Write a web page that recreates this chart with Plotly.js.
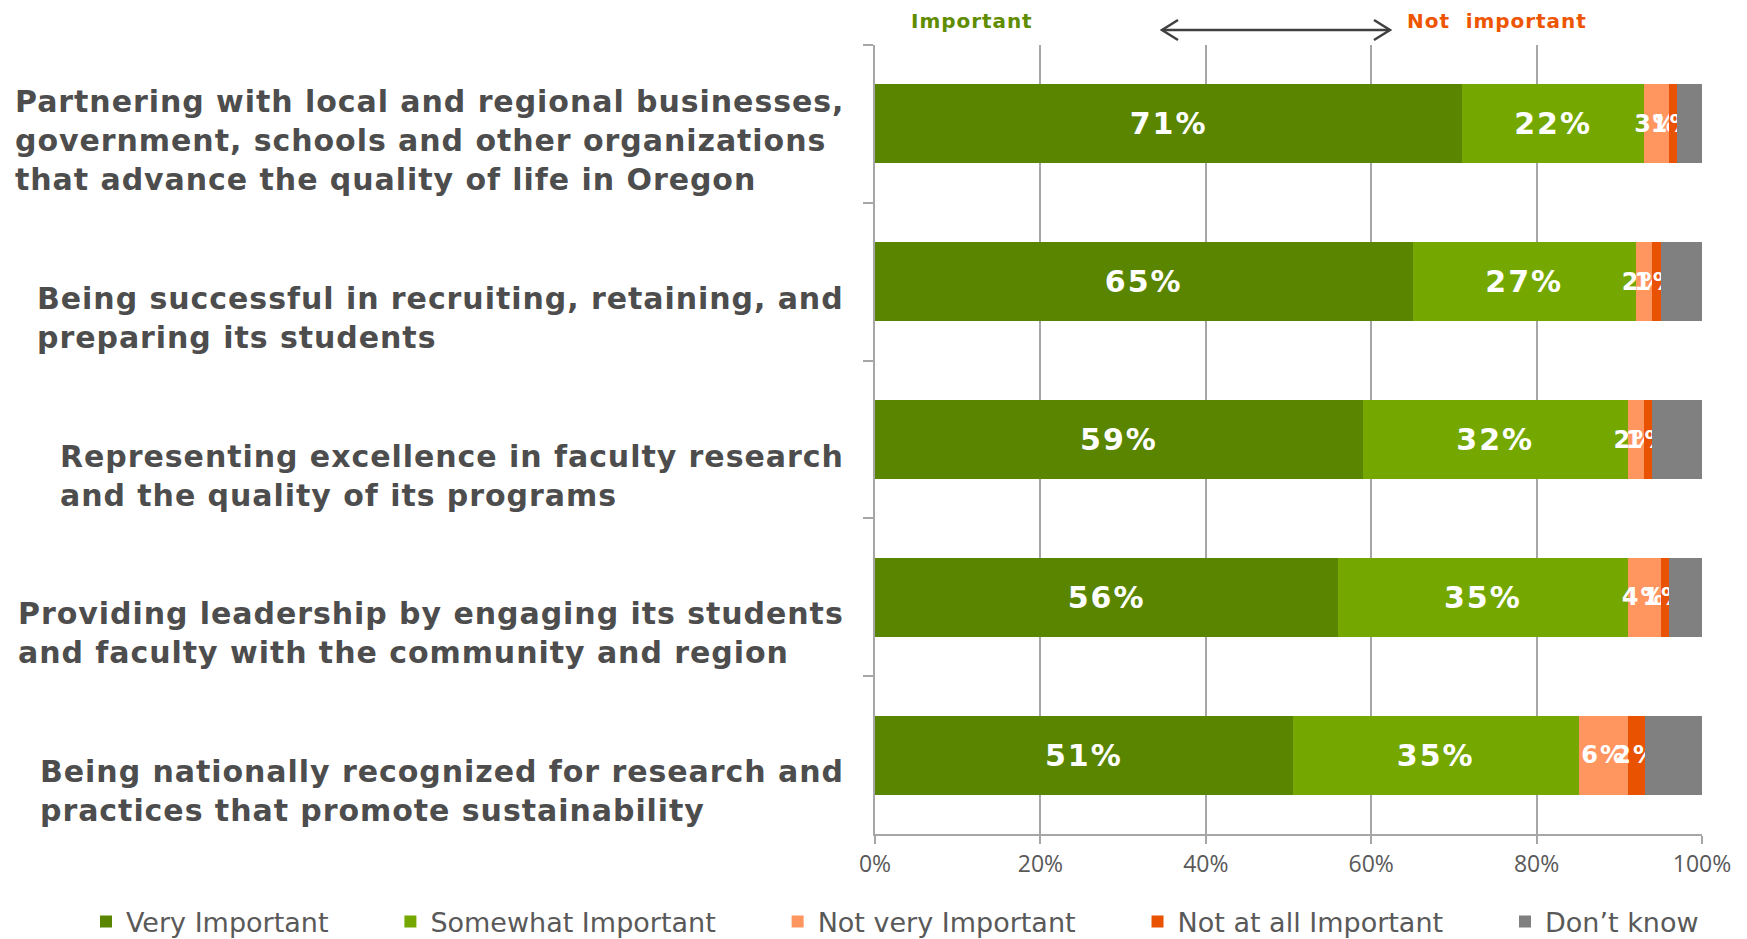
<!DOCTYPE html>
<html>
<head>
<meta charset="utf-8">
<script src="https://cdn.plot.ly/plotly-3.0.1.min.js"></script>
<style>
html,body{margin:0;padding:0;background:#fff;}
#chart{width:1747px;height:939px;}
text.annotation-text{letter-spacing:0.95px;}
text.bartext{letter-spacing:2px;}
</style>
</head>
<body>
<div id="chart"></div>
<script>
const categories = [
  'Partnering with local and regional businesses,<br>government, schools and other organizations<br>that advance the quality of life in Oregon',
  'Being successful in recruiting, retaining, and<br>preparing its students',
  'Representing excellence in faculty research<br>and the quality of its programs',
  'Providing leadership by engaging its students<br>and faculty with the community and region',
  'Being nationally recognized for research and<br>practices that promote sustainability'
];
const seriesNames = ['Very Important', 'Somewhat Important', 'Not very Important', 'Not at all Important', 'Don\u2019t know'];
const veryImportant     = [71, 65, 59, 56, 50.5];
const somewhatImportant = [22, 27, 32, 35, 34.6];
const notVeryImportant  = [3, 2, 2, 4, 6];
const notAtAllImportant = [1, 1, 1, 1, 2];
const dontKnow          = [3, 5, 6, 4, 6.9];
const xTickVals = [0, 20, 40, 60, 80, 100];
const xTickText = ['0%', '20%', '40%', '60%', '80%', '100%'];

const colors = ['#5A8500', '#74A800', '#FF955F', '#E85200', '#808080'];
const values = [veryImportant, somewhatImportant, notVeryImportant, notAtAllImportant, dontKnow];
const labelSizes = [30, 30, 24, 24, 24];
const showLabels = [true, true, true, true, false];
// spacing after each legend entry (non-breaking + thin spaces), none after the last
const legendPad = '\u00a0'.repeat(6) + '\u2009';

const traces = values.map((v, i) => ({
  type: 'bar',
  orientation: 'h',
  name: seriesNames[i] + (i < seriesNames.length - 1 ? legendPad : ''),
  y: categories,
  x: v,
  marker: {color: colors[i], line: {width: 0}},
  texttemplate: showLabels[i] ? '%{x:.0f}%' : '',
  textposition: showLabels[i] ? 'inside' : 'none',
  insidetextanchor: 'middle',
  textangle: 0,
  constraintext: 'none',
  textfont: {family: 'DejaVu Sans', size: labelSizes[i], color: '#ffffff', weight: 'bold'},
  hoverinfo: 'x+name'
}));

const fullW = 1747, fullH = 939;
const mL = 875, mR = 45, mT = 45, mB = 105;
const plotW = fullW - mL - mR, plotH = fullH - mT - mB;
const pxToX = px => (px - mL) / plotW * 100;
const pxToPy = py => (fullH - mB - py) / plotH;

const annotations = categories.map(c => ({
  xref: 'paper', yref: 'y',
  x: (846 - mL) / plotW, y: c,
  xanchor: 'right', yanchor: 'bottom', yshift: -75,
  align: 'left', showarrow: false,
  text: c,
  font: {family: 'DejaVu Sans', size: 30, color: '#4D4D4D', weight: 'bold'}
}));
annotations.push({
  xref: 'x', yref: 'paper', x: pxToX(972), y: pxToPy(21), xanchor: 'center', yanchor: 'middle',
  showarrow: false, text: 'Important',
  font: {family: 'DejaVu Sans', size: 20, color: '#5F8C00', weight: 'bold'}
});
annotations.push({
  xref: 'x', yref: 'paper', x: pxToX(1497), y: pxToPy(21), xanchor: 'center', yanchor: 'middle',
  showarrow: false, text: 'Not\u00a0 important',
  font: {family: 'DejaVu Sans', size: 20, color: '#EE5500', weight: 'bold'}
});

const ay = pxToPy(30);
const x0 = pxToX(1162), x1 = pxToX(1390);
const dx = 16 / plotW * 100, dy = 10 / plotH;
const shapes = [
  {type: 'line', xref: 'x', yref: 'paper', x0: x0, x1: x1, y0: ay, y1: ay, line: {color: '#404040', width: 2.5}},
  {type: 'path', xref: 'x', yref: 'paper', path: `M${x0+dx},${ay+dy} L${x0},${ay} L${x0+dx},${ay-dy}`, line: {color: '#404040', width: 2.5}},
  {type: 'path', xref: 'x', yref: 'paper', path: `M${x1-dx},${ay+dy} L${x1},${ay} L${x1-dx},${ay-dy}`, line: {color: '#404040', width: 2.5}}
];

const layout = {
  width: fullW, height: fullH,
  margin: {l: mL, r: mR, t: mT, b: mB, pad: 0, autoexpand: false},
  paper_bgcolor: '#ffffff', plot_bgcolor: '#ffffff',
  barmode: 'stack', bargap: 0.5,
  showlegend: true,
  legend: {
    orientation: 'h', x: (86 - mL) / plotW, xanchor: 'left', y: pxToPy(922), yanchor: 'middle',
    font: {family: 'DejaVu Sans', size: 27, color: '#595959'},
    traceorder: 'normal'
  },
  xaxis: {
    range: [0, 100], tickvals: xTickVals, ticktext: xTickText,
    showgrid: true, gridcolor: '#A6A6A6', gridwidth: 1.5, zeroline: false,
    showline: true, linecolor: '#A6A6A6', linewidth: 2,
    ticks: 'outside', ticklen: 8, tickcolor: '#A6A6A6', tickwidth: 2,
    tickfont: {family: 'Open Sans', size: 23, color: '#595959'}, fixedrange: true
  },
  yaxis: {
    type: 'category', autorange: 'reversed', showticklabels: false,
    showgrid: false, zeroline: false,
    showline: true, linecolor: '#A6A6A6', linewidth: 2,
    ticks: 'outside', tickson: 'boundaries', ticklen: 10, tickcolor: '#A6A6A6', tickwidth: 2, fixedrange: true
  },
  annotations: annotations,
  shapes: shapes
};

Plotly.newPlot('chart', traces, layout, {displayModeBar: false, responsive: false});
</script>
</body>
</html>
